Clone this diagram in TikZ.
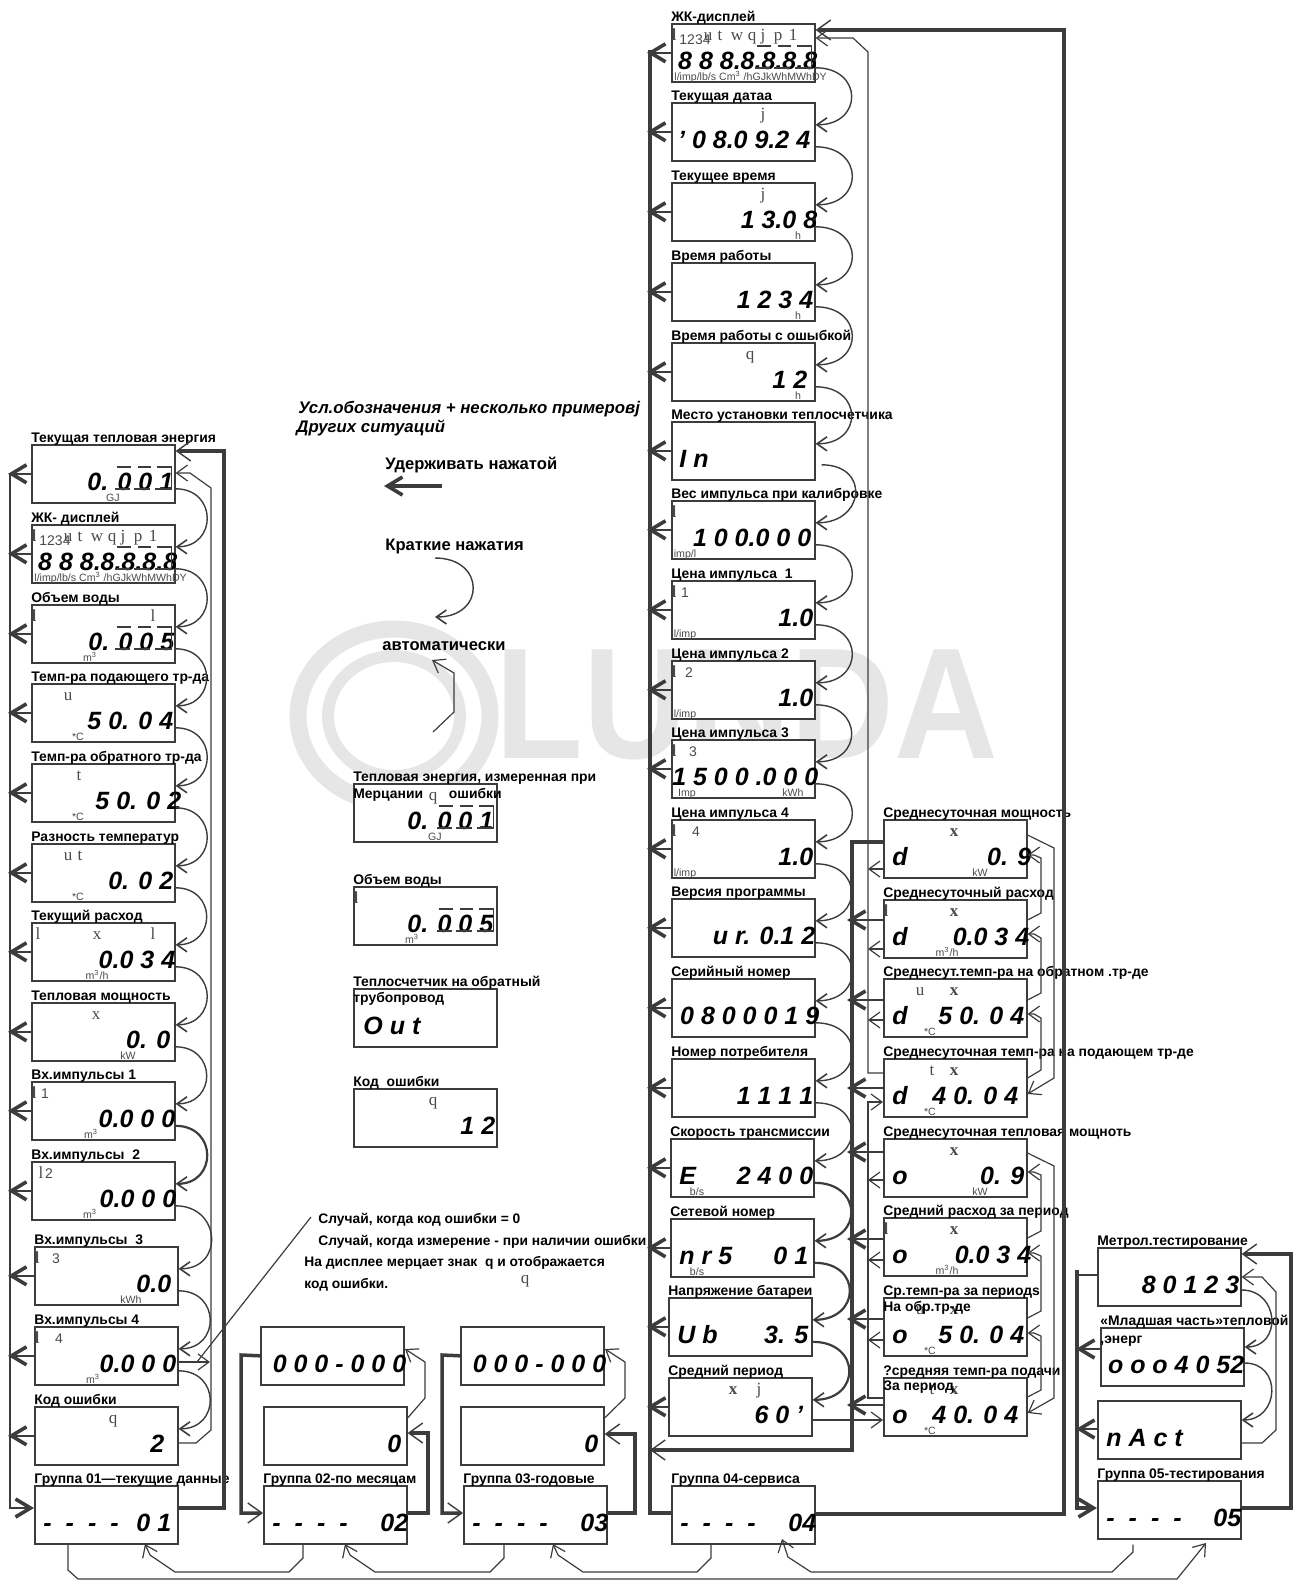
\documentclass[tikz,border=0pt]{standalone}
\usepackage{fontspec}
\setmainfont{Liberation Sans}
\newfontfamily\glyphfont{Liberation Serif}
\usetikzlibrary{arrows.meta}
\definecolor{PanelLine}{HTML}{3C3C3C}
\definecolor{UnitGray}{HTML}{4A4A4A}
\definecolor{WaterGray}{HTML}{E6E6E6}

\tikzset{
    lcd/.style={draw=PanelLine, fill=white, line width=0.8pt, anchor=north west, inner sep=0pt,
        minimum width=71.5pt, minimum height=29pt},
    lcdcap/.style={anchor=base west, inner sep=0pt, font=\fontsize{6.95}{8}\selectfont\bfseries},
    notetext/.style={lcdcap, font=\fontsize{6.9}{8}\selectfont\bfseries},
    keytext/.style={lcdcap, font=\fontsize{8.3}{9}\selectfont\bfseries},
    keytitle/.style={lcdcap, font=\fontsize{8.4}{10}\selectfont\bfseries\itshape},
    digits/.style={anchor=base east, inner sep=0pt, font=\fontsize{12.5}{14}\selectfont\bfseries\itshape},
    icon/.style={anchor=base, inner sep=0pt, text=UnitGray, font=\fontsize{8.5}{9}\selectfont\glyphfont},
    unit/.style={anchor=base, inner sep=0pt, text=UnitGray, font=\fontsize{5.3}{6}\selectfont},
    hold/.style={PanelLine, line width=0.75pt, -{Straight Barb[length=7.5pt,width=9pt,line width=1.8pt]}},
    jump/.style={PanelLine, line width=1.75pt, -{Straight Barb[length=7pt,width=10pt,line width=0.7pt]}},
    bus/.style={PanelLine, line width=1.75pt},
    autorun/.style={PanelLine, line width=0.6pt, -{Straight Barb[length=5.5pt,width=8pt,line width=0.6pt]}},
    hop/.style={PanelLine, line width=0.7pt, out=0, in=0, looseness=1.85,
        -{Straight Barb[length=5pt,width=7pt,line width=0.8pt]}},
    hopheavy/.style={hop, line width=1.1pt},
}

% panel: name, corner, caption, readout, readout offset from the right edge (pt)
\newcommand{\lcdpanel}[5]{%
    \node[lcd] (#1) at (#2) {};
    \node[lcdcap] (#1c) at ([yshift=1pt]#1.north west) {#3};
    \node[digits] (#1r) at ([xshift=#5pt,yshift=6.5pt]#1.south east) {#4};
}
\newcommand{\lcdtag}[3]{\node[digits, anchor=base west] (#1t) at ([xshift=#2*0.5pt,yshift=6.5pt]#1.south west) {#3};}
\newcommand{\lcdicon}[3]{\node[icon] (#1i#2) at ([xshift=#2*0.5pt,yshift=-8.5pt]#1.north west) {#3};}
\newcommand{\lcdunit}[3]{\node[unit] (#1u#2) at ([xshift=#2*0.5pt,yshift=1pt]#1.south west) {#3};}
\newcommand{\lcdflash}[1]{%
    \draw[PanelLine, line width=0.6pt] ([xshift=-29.5pt,yshift=-11.5pt]#1.north east) -- +(14,0)
        ([xshift=-19pt,yshift=-11.5pt]#1.north east) -- +(13,0)
        ([xshift=-9.5pt,yshift=-11.5pt]#1.north east) -- +(15,0) -- +(15,22)
        ([xshift=-30.5pt,yshift=-22.5pt]#1.north east) -- +(15,0)
        ([xshift=-21pt,yshift=-22.5pt]#1.north east) -- +(16,0)
        ([xshift=-10.5pt,yshift=-22.5pt]#1.north east) -- +(17,0);
}
\newcommand{\lcdsegs}[1]{%
    \foreach \dx/\g in {3/\lbar,37/u,49/t,66/w,81/q,92/j,107/p,122/1} {\lcdicon{#1}{\dx}{\g}}
    \node[unit, font=\fontsize{7}{8}\selectfont] (#1n) at ([xshift=12pt,yshift=-10.5pt]#1.north west) {1234};
    \node[unit, anchor=base west] (#1s) at ([xshift=1.5pt,yshift=1pt]#1.south west)
        {l/imp/lb/s Cm\textsuperscript{3} /hGJkWhMWhDY};
    \lcdflash{#1}
}
\newcommand{\lbar}{\textbf{l}}
\newcommand{\pin}[1]{{\rmfamily\fontsize{7}{8}\selectfont #1}}
\newcommand{\grpdash}{-\hskip 7pt-\hskip 7pt-\hskip 7pt-}

\begin{document}
\begin{tikzpicture}[x=0.5pt, y=-0.5pt]
    \useasboundingbox (0,0) rectangle (1298,1580);

    % Watermark
    \draw[WaterGray, line width=8.5pt] (394,716) ellipse [x radius=96, y radius=87];
    \draw[WaterGray, line width=6pt] (394,716) ellipse [x radius=66, y radius=60];
    \node[anchor=base west, inner sep=0pt, text=WaterGray, font=\fontsize{79}{79}\selectfont\bfseries,
        xscale=0.91, transform shape] (logo) at (495,758) {LUNDA};

    % Group 01
    \lcdpanel{l1}{31,444}{Текущая тепловая энергия}{0. 0 0 1}{-1}
    \lcdpanel{l2}{31,524}{ЖК- дисплей}{8 8 8.8.8.8.8}{1}
    \lcdpanel{l3}{31,604}{Объем воды}{0. 0 0 5}{-0.5}
    \lcdpanel{l4}{31,683}{Темп-ра подающего тр-да}{5 0. 0 4}{-1}
    \lcdpanel{l5}{31,763}{Темп-ра обратного тр-да}{5 0. 0 2}{3}
    \lcdpanel{l6}{31,843}{Разность температур}{0. 0 2}{-1}
    \lcdpanel{l7}{31,922}{Текущий расход}{0.0 3 4}{0}
    \lcdpanel{l8}{31,1002}{Тепловая мощность}{0. 0}{-2.5}
    \lcdpanel{l9}{31,1081}{Вх.импульсы 1}{0.0 0 0}{0}
    \lcdpanel{l10}{31,1161}{Вх.импульсы\ \ 2}{0.0 0 0}{0.5}
    \lcdpanel{l11}{34,1246}{Вх.импульсы\ \ 3}{0.0}{-3.5}
    \lcdpanel{l12}{34,1326}{Вх.импульсы 4}{0.0 0 0}{-1}
    \lcdpanel{l13}{34,1406}{Код ошибки}{2}{-7}
    \lcdpanel{g1}{34,1485}{Группа 01—текущие данные}{0 1}{-3.5}
    \lcdtag{g1}{9}{\grpdash}
    \lcdflash{l1} \lcdflash{l3} \lcdsegs{l2}
    \lcdunit{l1}{82}{GJ}
    \lcdicon{l3}{3}{\lbar} \lcdicon{l3}{122}{l} \lcdunit{l3}{59}{m\textsuperscript{3}}
    \lcdicon{l4}{37}{u} \lcdunit{l4}{47}{*C}
    \lcdicon{l5}{48}{t} \lcdunit{l5}{47}{*C}
    \lcdicon{l6}{37}{u} \lcdicon{l6}{49}{t} \lcdunit{l6}{47}{*C}
    \lcdicon{l7}{7}{l} \lcdicon{l7}{66}{x} \lcdicon{l7}{122}{l} \lcdunit{l7}{66}{m\textsuperscript{3}/h}
    \lcdicon{l8}{65}{x} \lcdunit{l8}{97}{kW}
    \lcdicon{l9}{3}{\lbar} \lcdicon{l9}{14}{\pin{1}} \lcdunit{l9}{60}{m\textsuperscript{3}}
    \lcdicon{l10}{10}{l} \lcdicon{l10}{18}{\pin{2}} \lcdunit{l10}{59}{m\textsuperscript{3}}
    \lcdicon{l11}{3}{\lbar} \lcdicon{l11}{22}{\pin{3}} \lcdunit{l11}{97}{kWh}
    \lcdicon{l12}{3}{\lbar} \lcdicon{l12}{25}{\pin{4}} \lcdunit{l12}{59}{m\textsuperscript{3}}
    \lcdicon{l13}{79}{q}

    % Groups 02 and 03
    \lcdpanel{a1}{260,1326}{}{0 0 0 - 0 0 0}{1}
    \lcdpanel{a2}{263,1406}{}{0}{-3}
    \lcdpanel{g2}{263,1485}{Группа 02-по месяцам}{02}{0.5}
    \lcdtag{g2}{9}{\grpdash}
    \lcdpanel{b1}{460,1326}{}{0 0 0 - 0 0 0}{1}
    \lcdpanel{b2}{460,1406}{}{0}{-3}
    \lcdpanel{g3}{463,1485}{Группа 03-годовые}{03}{0.5}
    \lcdtag{g3}{9}{\grpdash}

    % Group 04
    \lcdpanel{s1}{671,23}{ЖК-дисплей}{8 8 8.8.8.8.8}{1}
    \lcdpanel{s2}{671,102}{Текущая датаа}{' 0 8.0 9.2 4}{-2.5}
    \lcdpanel{s3}{671,182}{Текущее время}{1 3.0 8}{1}
    \lcdpanel{s4}{671,262}{Время работы}{1 2 3 4}{-1}
    \lcdpanel{s5}{671,342}{Время работы с ошыбкой}{1 2}{-4}
    \lcdpanel{s6}{671,421}{Место установки теплосчетчика}{}{0}
    \lcdtag{s6}{8}{I n}
    \lcdpanel{s7}{671,500}{Вес импульса при калибровке}{1 0 0.0 0 0}{-2}
    \lcdpanel{s8}{671,580}{Цена импульса\ \ 1}{1.0}{-1}
    \lcdpanel{s9}{671,660}{Цена импульса 2}{1.0}{-1}
    \lcdpanel{s10}{671,739}{Цена импульса 3}{1 5 0 0 .0 0 0}{1.5}
    \lcdpanel{s11}{671,819}{Цена импульса 4}{1.0}{-1}
    \lcdpanel{s12}{671,898}{Версия программы}{u r. 0.1 2}{0}
    \lcdpanel{s13}{671,978}{Серийный номер}{0 8 0 0 0 1 9}{2}
    \lcdpanel{s14}{671,1058}{Номер потребителя}{1 1 1 1}{-1}
    \lcdpanel{s15}{670,1138}{Скорость трансмиссии}{2 4 0 0}{-0.5}
    \lcdtag{s15}{9}{E}
    \lcdpanel{s16}{670,1218}{Сетевой номер}{0 1}{-3}
    \lcdtag{s16}{9}{n r 5}
    \lcdpanel{s17}{668,1297}{Напряжение батареи}{3. 5}{-2}
    \lcdtag{s17}{9}{U b}
    \lcdpanel{s18}{668,1377}{Средний период}{6 0 '}{-4.5}
    \lcdpanel{g4}{671,1485}{Группа 04-сервиса}{04}{0.5}
    \lcdtag{g4}{9}{\grpdash}
    \lcdsegs{s1}
    \lcdicon{s2}{92}{j}
    \lcdicon{s3}{92}{j} \lcdunit{s3}{127}{h}
    \lcdunit{s4}{127}{h}
    \lcdicon{s5}{79}{q} \lcdunit{s5}{127}{h}
    \lcdicon{s7}{3}{\lbar} \lcdunit{s7}{14}{imp/l}
    \lcdicon{s8}{3}{\lbar} \lcdicon{s8}{14}{\pin{1}} \lcdunit{s8}{14}{l/imp}
    \lcdicon{s9}{3}{\lbar} \lcdicon{s9}{18}{\pin{2}} \lcdunit{s9}{14}{l/imp}
    \lcdicon{s10}{3}{\lbar} \lcdicon{s10}{22}{\pin{3}} \lcdunit{s10}{16}{Imp} \lcdunit{s10}{122}{kWh}
    \lcdicon{s11}{3}{\lbar} \lcdicon{s11}{25}{\pin{4}} \lcdunit{s11}{14}{l/imp}
    \lcdunit{s15}{27}{b/s} \lcdunit{s16}{27}{b/s}
    \lcdicon{s18}{65}{\bfseries x} \lcdicon{s18}{91}{j}

    % Daily and period averages
    \lcdpanel{d1}{883,819}{Среднесуточная мощность}{0. 9}{2}
    \lcdpanel{d2}{883,899}{Среднесуточный расход}{0.0 3 4}{1}
    \lcdpanel{d3}{883,978}{Среднесут.темп-ра на обратном .тр-де}{5 0. 0 4}{-1.5}
    \lcdpanel{d4}{883,1058}{Среднесуточная темп-ра на подающем тр-де}{4 0. 0 4}{-4.5}
    \lcdpanel{o1}{883,1138}{Среднесуточная тепловая мощноть}{0. 9}{-1.5}
    \lcdpanel{o2}{883,1217}{Средний расход за период}{0.0 3 4}{2}
    \lcdpanel{o3}{883,1297}{Ср.темп-ра за периодs}{5 0. 0 4}{-1.5}
    \lcdpanel{o4}{883,1377}{?средняя темп-ра подачи}{4 0. 0 4}{-4.5}
    \foreach \n in {d1,d2,d3,d4} {\lcdtag{\n}{9}{d} \lcdicon{\n}{71}{\bfseries x}}
    \foreach \n in {o1,o2,o3,o4} {\lcdtag{\n}{9}{o} \lcdicon{\n}{71}{\bfseries x}}
    \foreach \n in {d1,o1} {\lcdunit{\n}{97}{kW}}
    \foreach \n in {d2,o2} {\lcdicon{\n}{3}{\lbar} \lcdunit{\n}{64}{m\textsuperscript{3}/h}}
    \foreach \n in {d3,d4,o3,o4} {\lcdunit{\n}{47}{*C}}
    \foreach \n in {d3,o3} {\lcdicon{\n}{37}{u}}
    \foreach \n in {d4,o4} {\lcdicon{\n}{49}{t}}
    \node[lcdcap] (o3k) at (883,1311) {На обр.тр-де};
    \node[lcdcap] (o4k) at (883,1390) {За период};

    % Group 05
    \lcdpanel{t1}{1097,1247}{Метрол.тестирование}{8 0 1 2 3}{-1}
    \lcdpanel{t2}{1100,1327}{«Младшая часть»тепловой}{o o o 4 0 52}{0}
    \lcdpanel{t3}{1097,1400}{}{}{0}
    \lcdtag{t3}{9}{n A c t}
    \lcdpanel{g5}{1097,1480}{Группа 05-тестирования}{05}{0}
    \lcdtag{g5}{9}{\grpdash}
    \node[lcdcap] (t2k) at (1100,1343) {,энерг};

    % Legend
    \node[keytitle] (legend1) at (298,413) {Усл.обозначения + несколько примеровj};
    \node[keytitle] (legend2) at (296,432) {Других ситуаций};
    \node[keytext] (legend3) at (385,469) {Удерживать нажатой};
    \node[keytext] (legend4) at (385,550) {Краткие нажатия};
    \node[keytext] (legend5) at (382,650) {автоматически};
    \coordinate (keyholdA) at (442,486);
    \coordinate (keyholdB) at (384,486);
    \coordinate (keypressA) at (435,558);
    \coordinate (keypressB) at (435,617);
    \draw[hold, line width=1.75pt] (keyholdA) -- (keyholdB);
    \draw[hop, looseness=2.2] (keypressA) to (keypressB);
    \draw[autorun] (433,732) -- (454,712) -- (454,673) -- (432,660);

    \lcdpanel{e1}{353,783}{Тепловая энергия, измеренная при}{0. 0 0 1}{-2}
    \lcdpanel{e2}{353,886}{Объем воды}{0. 0 0 5}{-2}
    \lcdpanel{e3}{353,988}{Теплосчетчик на обратный}{}{0}
    \lcdtag{e3}{10}{O u t}
    \lcdpanel{e4}{353,1088}{Код\ \ ошибки}{1 2}{-1}
    \node[lcdcap] (e1k) at (353,798) {Мерцании \hskip 11pt ошибки};
    \node[lcdcap] (e3k) at (353,1002) {трубопровод};
    \lcdflash{e1} \lcdflash{e2}
    \lcdicon{e1}{80}{q} \lcdunit{e1}{82}{GJ}
    \lcdicon{e2}{3}{\lbar} \lcdunit{e2}{59}{m\textsuperscript{3}}
    \lcdicon{e4}{80}{q}

    % Note on the error code
    \node[notetext] (note1) at (318,1223) {Случай, когда код ошибки = 0};
    \node[notetext] (note2) at (318,1245) {Случай, когда измерение - при наличии ошибки};
    \node[notetext] (note3) at (304,1266) {На дисплее мерцает знак\ \ q и отображается};
    \node[notetext] (note4) at (304,1288) {код ошибки.};
    \node[icon] (note5) at (525,1283) {q};
    \coordinate (calloutfoot) at (197,1362);
    \coordinate (callouttop) at (311,1217);
    \draw[PanelLine, line width=0.6pt] (calloutfoot) -- (callouttop);

    % Hold connectors, group 01
    \foreach \n in {1,...,13} \draw[hold] (l\n.west) -- (8,0 |- l\n.west);
    \draw[hold] (10,0 |- l1.west) -- (10,1508) -- (g1.west |- 0,1508);
    \draw[jump] (g1.east |- 0,1508) -- (224,1508) -- (224,451) -- (l1.east |- 0,451);
    \draw[autorun] (l13.east |- 0,1443) -- (196,1443) -- (211,1430) -- (211,488) -- (190,473) -- (l1.east |- 0,473);
    \draw[autorun] (l12.east |- 0,1362) -- (210,1362);

    % Short presses, group 01
    \foreach \a/\b in {l1/l2,l2/l3,l3/l4,l4/l5,l5/l6,l6/l7,l7/l8,l8/l9,l10/l11,l11/l12,l12/l13}
        \draw[hop] ([yshift=-7.5pt]\a.east) to ([yshift=3.5pt]\b.east);
    \draw[hopheavy] ([yshift=-7.5pt]l9.east) to ([yshift=3.5pt]l10.east);

    % Groups 02 and 03
    \draw[jump] (g2.east |- 0,1513) -- (428,1513) -- (428,1433) -- (a2.east |- 0,1433);
    \draw[jump] (a1.west) -- (241,1355) -- (241,1513) -- (g2.west |- 0,1513);
    \draw[autorun] (a2.east |- 0,1418) -- (425,1398) -- (425,1362) -- (405,1349);
    \draw[jump] (g3.east |- 0,1513) -- (635,1513) -- (635,1434) -- (b2.east |- 0,1434);
    \draw[jump] (b1.west) -- (442,1355) -- (442,1513) -- (g3.west |- 0,1513);
    \draw[autorun] (b2.east |- 0,1418) -- (625,1398) -- (625,1362) -- (605,1349);

    % Hold connectors, group 04
    \foreach \n in {1,...,18} \draw[hold] (s\n.west) -- (647,0 |- s\n.west);
    \draw[bus] (650,50) -- (650,1513) -- (g4.west |- 0,1513);
    \draw[jump] (g4.east |- 0,1514) -- (1064,1514) -- (1064,30) -- (s1.east |- 0,30);
    \draw[autorun] (d4.west |- 0,1073) -- (868,1073) -- (868,52) -- (853,38) -- (s1.east |- 0,38);

    % Short presses, group 04
    \foreach \a/\b in {s1/s2,s2/s3,s3/s4,s4/s5,s5/s6,s7/s8,s8/s9,s9/s10,s10/s11,s11/s12,s12/s13,s13/s14,s14/s15}
        \draw[hop, looseness=2.15] ([yshift=-7.5pt]\a.east) to ([yshift=3.5pt]\b.east);
    \draw[hop, looseness=2.15] ([xshift=3pt,yshift=-7pt]s6.east) to ([yshift=3.5pt]s7.east);
    \foreach \a/\b in {s15/s16,s16/s17,s17/s18}
        \draw[hopheavy, looseness=2.15] ([yshift=-7.5pt]\a.east) to ([yshift=3.5pt]\b.east);

    % Averages: hold, then automatic steps
    \draw[jump] (d1.west |- 0,842) -- (852,842) -- (852,1450) -- (650,1450);
    \foreach \n/\y in {d2/920,d3/1000,d4/1088,o1/1152,o2/1239,o3/1319,o4/1405} \draw[hold] (\n.west |- 0,\y) -- (847,\y);
    \foreach \n/\y in {d1/869,d2/949,d3/1020,o1/1180,o2/1260,o3/1340} \draw[autorun] (\n.west |- 0,\y) -- (868,\y);
    \draw[autorun] (o4.west |- 0,1398) -- (868,1398) -- (868,1102) -- (d4.west |- 0,1102);
    \draw[autorun] (s18.east |- 0,1420) -- (o4.west |- 0,1420);
    \draw[autorun] (d1.east |- 0,835) -- (1054,848) -- (1054,1078) -- (d4.east |- 0,1094);
    \draw[autorun] (d2.east |- 0,920) -- (1041,913) -- (1041,858) -- (1034,855) -- (d1.east |- 0,855);
    \draw[autorun] (d3.east |- 0,1000) -- (1041,993) -- (1041,938) -- (1034,934) -- (d2.east |- 0,934);
    \draw[autorun] (d4.east |- 0,1078) -- (1041,1070) -- (1041,1018) -- (1034,1014) -- (d3.east |- 0,1014);
    \draw[autorun] (o1.east |- 0,1153) -- (1054,1166) -- (1054,1398) -- (o4.east |- 0,1413);
    \draw[autorun] (o2.east |- 0,1238) -- (1041,1231) -- (1041,1175) -- (1034,1172) -- (o1.east |- 0,1172);
    \draw[autorun] (o3.east |- 0,1318) -- (1041,1311) -- (1041,1256) -- (1034,1253) -- (o2.east |- 0,1253);
    \draw[autorun] (o4.east |- 0,1397) -- (1041,1390) -- (1041,1336) -- (1034,1333) -- (o3.east |- 0,1333);

    % Group 05
    \draw[PanelLine, line width=0.75pt] (t1.west |- 0,1275) -- (1077,1275);
    \draw[hold, line width=1.75pt] (1077,1270) -- (1077,1508) -- (g5.west |- 0,1508);
    \foreach \n/\y in {t2/1349,t3/1429} \draw[hold] (\n.west |- 0,\y) -- (1076,\y);
    \draw[jump] (g5.east |- 0,1508) -- (1291,1508) -- (1291,1254) -- (t1.east |- 0,1254);
    \draw[autorun] (t3.east |- 0,1443) -- (1262,1443) -- (1276,1430) -- (1276,1292) -- (1262,1277) -- (t1.east |- 0,1277);
    \draw[hop, looseness=1.7] (t1.east |- 0,1290) to (t2.east |- 0,1347);
    \draw[hop, looseness=1.7] (t2.east |- 0,1363) to (t3.east |- 0,1420);

    % Bottom links between groups
    \draw[autorun] (g2.south west) ++(40,0) -- (303,1558) -- (289,1572) -- (175,1572) -- (150,1555) -- (145,1544);
    \draw[autorun] (g3.south west) ++(41,0) -- (504,1558) -- (490,1572) -- (375,1572) -- (350,1555) -- (345,1544);
    \draw[autorun] (g4.south west) ++(40,0) -- (711,1558) -- (697,1572) -- (583,1572) -- (558,1555) -- (553,1544);
    \draw[autorun] (g5.south west) ++(36,5) -- (1133,1552) -- (1112,1572) -- (811,1572) -- (788,1557) -- (782,1539);
    \draw[autorun] (g1.south west) ++(34,0) -- (68,1570) -- (78,1579) -- (1177,1579) -- (1206,1543);
\end{tikzpicture}
\end{document}
